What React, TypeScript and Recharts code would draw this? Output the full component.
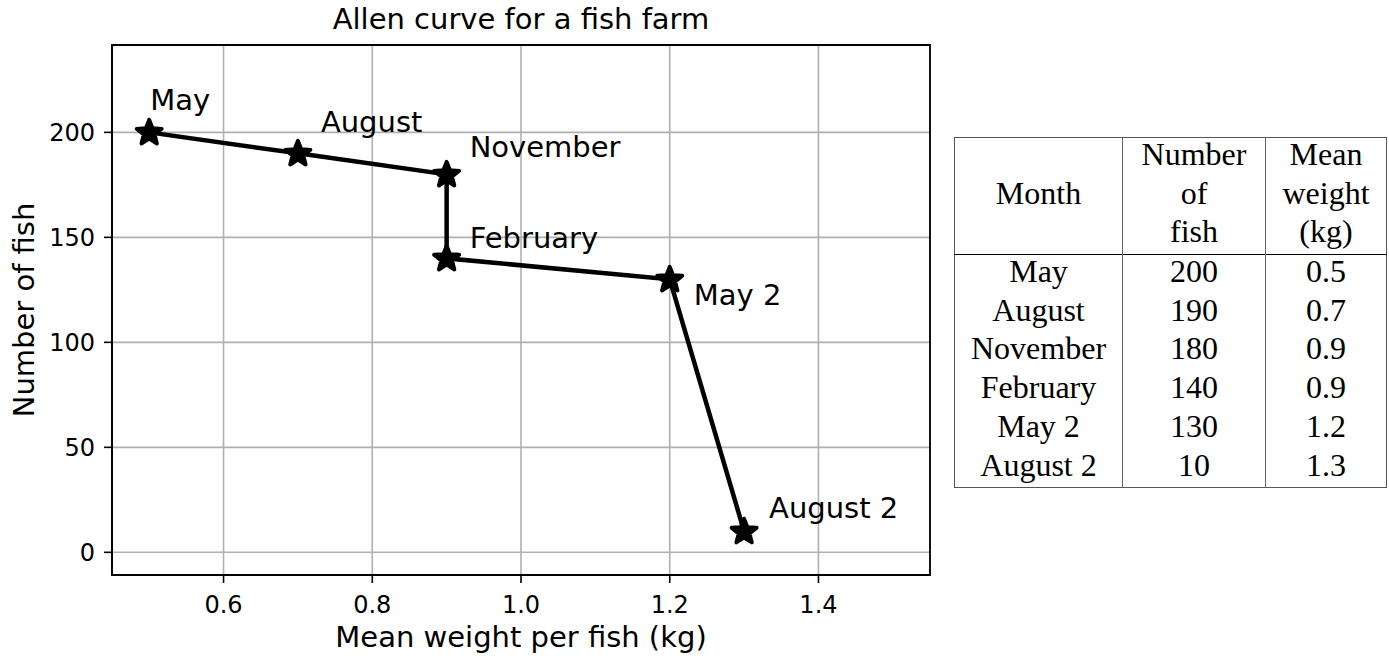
import { ComposedChart, Line, XAxis, YAxis, CartesianGrid, ReferenceArea } from 'recharts';

const MONTHS = ['May', 'August', 'November', 'February', 'May 2', 'August 2'];
const FISH = [200, 190, 180, 140, 130, 10];
const WEIGHT = [0.5, 0.7, 0.9, 0.9, 1.2, 1.3];
const X_TICKS = [0.6, 0.8, 1.0, 1.2, 1.4];
const Y_TICKS = [0, 50, 100, 150, 200];
// label placement, px from the point (text start, baseline)
const LABEL_OFF = [[1, -22], [23, -21], [23, -17], [23, -10], [24, 26], [25, -13]];

const SANS = 'DejaVu Sans';
const SERIF = '"Liberation Serif", "Times New Roman", serif';

const data = MONTHS.map((m, i) => ({ month: m, w: WEIGHT[i], n: FISH[i] }));

function starPath(cx: number, cy: number, R: number) {
  const r = R * 0.44;
  const pts: string[] = [];
  for (let k = 0; k < 10; k++) {
    const a = -Math.PI / 2 + (k * Math.PI) / 5;
    const rad = k % 2 ? r : R;
    pts.push(`${cx + rad * Math.cos(a)},${cy + rad * Math.sin(a)}`);
  }
  return pts.join(' ');
}

const Dot = (p: any) => {
  const { cx, cy, index } = p;
  const [dx, dy] = LABEL_OFF[index];
  return (
    <g key={`d${index}`}>
      <polygon points={starPath(cx, cy + 0.5, 13.2)} fill="#000" stroke="#000" strokeWidth={3.8} strokeLinejoin="round" />
      <text x={cx + dx} y={cy + dy} fontFamily={SANS} fontSize={29} fill="#000">{MONTHS[index]}</text>
    </g>
  );
};

const cell: React.CSSProperties = { padding: 0, textAlign: 'center', verticalAlign: 'middle' };
const up: React.CSSProperties = { position: 'relative', top: -3 };

export default function App() {
  return (
    <div style={{ position: 'absolute', left: 0, top: 0, width: 1389, height: 658, background: '#fff' }}>
      <ComposedChart width={1389} height={658} data={data} margin={{ top: 45, right: 459, bottom: 43, left: 52 }}>
        <CartesianGrid stroke="#b0b0b0" strokeWidth={1.6} />
        <XAxis dataKey="w" type="number" domain={[0.45, 1.55]} ticks={X_TICKS} allowDataOverflow height={40}
          tickFormatter={(v: number) => v.toFixed(1)} tickSize={8} tickMargin={13}
          tick={{ fill: '#000', fontSize: 24, fontFamily: SANS }}
          tickLine={{ stroke: '#000', strokeWidth: 1.6 }} axisLine={{ stroke: '#000', strokeWidth: 1.6 }} />
        <YAxis type="number" domain={[-10.8, 241.6]} ticks={Y_TICKS} allowDataOverflow width={60}
          tickSize={8} tickMargin={9}
          tick={{ fill: '#000', fontSize: 24, fontFamily: SANS }}
          tickLine={{ stroke: '#000', strokeWidth: 1.6 }} axisLine={{ stroke: '#000', strokeWidth: 1.6 }} />
        <ReferenceArea x1={0.45} x2={1.55} y1={-10.8} y2={241.6} fill="none" stroke="#000" strokeWidth={1.8} />
        <Line dataKey="n" stroke="#000" strokeWidth={4.5} dot={Dot} activeDot={false} isAnimationActive={false} />
      </ComposedChart>

      <svg width={1389} height={658} style={{ position: 'absolute', left: 0, top: 0, pointerEvents: 'none' }}>
        <text x={521} y={29} textAnchor="middle" fontFamily={SANS} fontSize={29}>Allen curve for a fish farm</text>
        <text x={521} y={647} textAnchor="middle" fontFamily={SANS} fontSize={29}>Mean weight per fish (kg)</text>
        <text transform="translate(34,310) rotate(-90)" textAnchor="middle" fontFamily={SANS} fontSize={29}>Number of fish</text>
      </svg>

      <table style={{ position: 'absolute', left: 954, top: 137, width: 432, borderCollapse: 'collapse', fontFamily: SERIF, fontSize: 32, lineHeight: '38.5px', border: '1px solid #555', tableLayout: 'fixed' }}>
        <colgroup>
          <col style={{ width: 168 }} />
          <col style={{ width: 143 }} />
          <col style={{ width: 121 }} />
        </colgroup>
        <thead>
          <tr style={{ height: 117, borderBottom: '1.5px solid #000' }}>
            <th style={{ ...cell, fontWeight: 400, borderRight: '1px solid #666' }}><span style={up}>Month</span></th>
            <th style={{ ...cell, fontWeight: 400, borderRight: '1px solid #666' }}><div style={up}>Number<br />of<br />fish</div></th>
            <th style={{ ...cell, fontWeight: 400 }}><div style={up}>Mean<br />weight<br />(kg)</div></th>
          </tr>
        </thead>
        <tbody>
          {MONTHS.map((m, i) => (
            <tr key={m} style={{ height: 38.8 }}>
              <td style={{ ...cell, borderRight: '1px solid #666' }}><span style={up}>{m}</span></td>
              <td style={{ ...cell, borderRight: '1px solid #666' }}><span style={up}>{FISH[i]}</span></td>
              <td style={cell}><span style={up}>{WEIGHT[i].toFixed(1)}</span></td>
            </tr>
          ))}
        </tbody>
      </table>
    </div>
  );
}
